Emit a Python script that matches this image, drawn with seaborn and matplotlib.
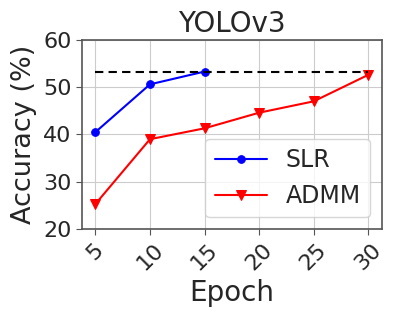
import numpy as np
import pandas as pd
import matplotlib
matplotlib.use("Agg")
import matplotlib.pyplot as plt
import seaborn as sns

sns.set_style("whitegrid")
plt.rcParams["font.family"] = ["DejaVu Sans"]

slr_epoch = [5, 10, 15]
slr_acc = [40.5, 50.6, 53.3]
admm_epoch = [5, 10, 15, 20, 25, 30]
admm_acc = [25.3, 39.0, 41.3, 44.6, 47.0, 52.6]
baseline = 53.3

fig = plt.figure(figsize=(3.99, 3.19), dpi=100)
ax = fig.add_axes([0.205, 0.282, 0.752, 0.593])

sns.lineplot(x=slr_epoch, y=slr_acc, color="blue", marker="o", markersize=5.5,
             markeredgecolor="blue", linewidth=1.5, label="SLR", ax=ax)
sns.lineplot(x=admm_epoch, y=admm_acc, color="red", marker="v", markersize=6.5,
             markeredgecolor="red", linewidth=1.5, label="ADMM", ax=ax)
ax.plot([5, 30], [baseline, baseline], color="black", linestyle="--", linewidth=1.5, dashes=(4, 2.5))

ax.set_ylim(20, 60)
ax.set_yticks([20, 30, 40, 50, 60])
ax.set_xticks([5, 10, 15, 20, 25, 30])
ax.set_xlim(3.75, 31.25)
ax.tick_params(axis="both", labelsize=16, length=4, color="#555555", bottom=True, left=True)
plt.setp(ax.get_xticklabels(), rotation=45)
ax.set_xlabel("Epoch", fontsize=20)
ax.set_ylabel("Accuracy (%)", fontsize=19.5)
ax.set_title("YOLOv3", fontsize=20)
for s in ax.spines.values():
    s.set_color("#555555")
    s.set_linewidth(1.2)
ax.grid(True, color="#cccccc", linewidth=0.8)
ax.legend(loc="lower right", fontsize=17, frameon=True, handlelength=2.2)

fig.savefig("out.png", dpi=100)
